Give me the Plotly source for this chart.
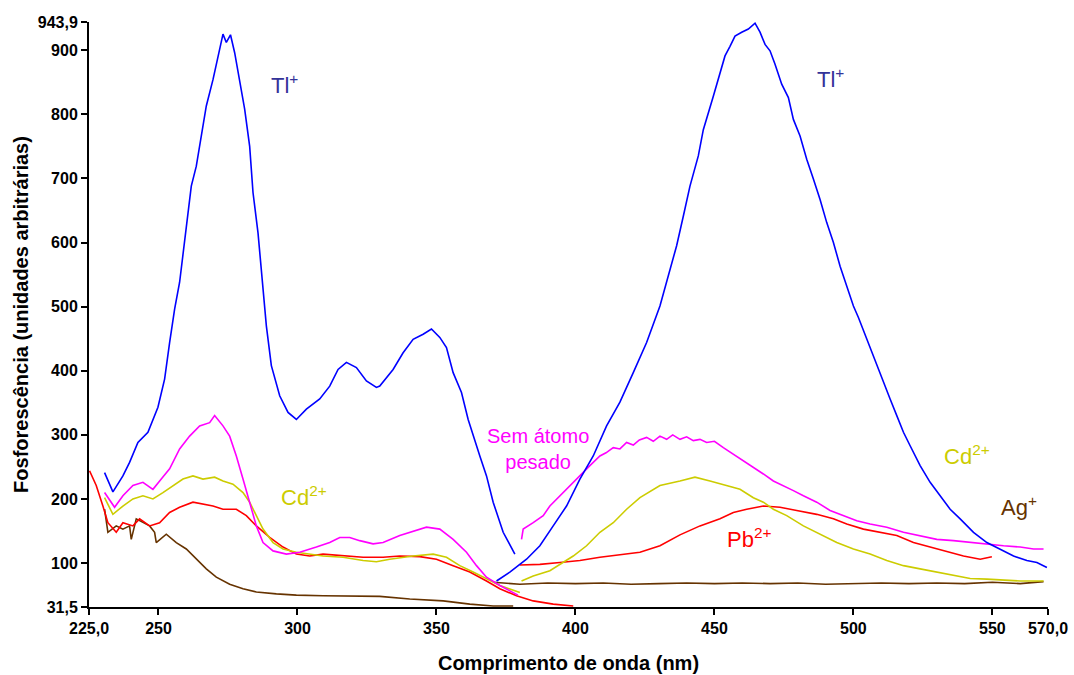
import plotly.graph_objects as go

# ---------------- data ----------------
# Tl+ (blue) – excitation segment
tl_ex_x = [230.6, 233.6, 237.2, 239.6, 242.6, 246.2, 249.8, 252.2, 254.0, 255.8, 257.6, 260.0, 261.8,
           263.6, 265.4, 267.2, 269.6, 271.4, 273.2, 274.4, 275.9, 277.4, 279.2, 281.0, 282.8, 284.0,
           285.8, 287.0, 288.8, 290.6, 293.6, 296.6, 299.6, 303.2, 308.0, 311.6, 314.6, 317.6, 321.2,
           324.8, 328.4, 329.6, 334.4, 338.0, 341.6, 345.2, 348.2, 351.2, 353.6, 356.0, 359.0, 361.4,
           363.2, 365.6, 368.0, 370.4, 374.0, 378.2]
tl_ex_y = [241, 211, 236, 257, 288, 304, 343, 387, 444, 496, 538, 626, 688,
           719, 769, 813, 854, 888, 925, 912, 924, 896, 849, 808, 750, 678,
           615, 553, 470, 408, 361, 335, 324, 340, 356, 376, 402, 413, 405,
           384, 374, 376, 402, 428, 449, 457, 465, 452, 436, 397, 366, 324,
           298, 267, 236, 195, 148, 114]
# Tl+ (blue) – emission segment
tl_em_x = [371.6, 376.4, 382.4, 387.2, 392.0, 396.8, 401.6, 406.4, 411.2, 416.0, 420.8, 425.6, 430.4,
           432.8, 436.4, 438.8, 441.2, 444.2, 446.0, 449.6, 452.0, 453.8, 455.6, 457.4, 459.8, 462.2,
           464.6, 466.4, 468.2, 470.0, 471.8, 474.2, 476.6, 478.4, 480.8, 483.2, 485.6, 488.0, 490.4,
           492.8, 495.2, 497.6, 500.0, 501.8, 506.0, 510.2, 513.2, 515.6, 518.0, 520.4, 524.0, 527.6,
           531.2, 534.8, 538.4, 543.2, 548.0, 552.8, 557.6, 562.4, 566.0, 569.6]
tl_em_y = [72, 86, 106, 127, 158, 189, 231, 267, 314, 351, 397, 444, 501,
           538, 595, 641, 688, 735, 776, 828, 862, 891, 906, 922, 928, 933,
           942, 928, 909, 899, 878, 847, 826, 792, 766, 730, 699, 667, 631,
           600, 563, 532, 501, 483, 435, 387, 356, 330, 304, 283, 252, 226,
           205, 184, 169, 148, 132, 122, 111, 104, 101, 93]

# Sem átomo pesado (magenta)
sp_ex_x = [230.6, 234.2, 237.2, 240.8, 244.4, 248.0, 251.0, 254.0, 257.6, 261.2, 264.8, 268.4, 270.2,
           273.2, 275.6, 278.0, 280.4, 282.8, 285.2, 287.6, 291.2, 296.0, 300.8, 306.8, 311.6, 315.2,
           318.8, 322.4, 327.2, 330.8, 336.8, 346.4, 351.2, 356.0, 360.8, 364.4, 368.0, 372.8, 379.3]
sp_ex_y = [210, 187, 205, 221, 226, 215, 231, 247, 278, 298, 314, 319, 330,
           314, 298, 267, 231, 195, 158, 132, 119, 114, 117, 125, 132, 140,
           140, 135, 130, 132, 143, 156, 153, 137, 117, 96, 78, 65, 50]
sp_em_x = [380.6, 381.2, 384.8, 388.4, 390.8, 394.4, 398.0, 401.6, 405.2, 408.8, 411.0, 413.6, 416.0,
           418.4, 420.8, 423.0, 425.6, 428.0, 430.4, 432.8, 435.0, 437.6, 440.0, 442.4, 444.8, 447.2,
           450.0, 453.2, 456.8, 460.4, 464.0, 467.6, 471.2, 474.8, 478.4, 482.0,
           486.8, 491.6, 496.4, 501.2, 506.0, 512.0, 518.0, 524.0, 530.0, 536.0, 542.0, 548.0, 554.0,
           560.0, 564.8, 568.4]
sp_em_y = [137, 153, 163, 174, 189, 205, 221, 236, 252, 267, 272, 280, 278,
           288, 284, 292, 296, 290, 298, 293, 300, 293, 297, 291, 293, 288,
           290, 280, 270, 259, 249, 239, 228, 221, 213, 205,
           195, 182, 174, 166, 161, 156, 148, 143, 137, 135, 132, 130, 127,
           125, 122, 122]

# Cd2+ (olive yellow)
cd_ex_x = [230.6, 233.6, 237.2, 240.8, 244.4, 248.0, 251.6, 255.2, 258.8, 262.4, 266.0, 270.2, 273.2,
           276.8, 280.4, 282.8, 285.2, 287.6, 291.2, 294.8, 299.6, 304.4, 309.2, 316.4, 323.6, 328.4,
           333.2, 341.6, 348.8, 353.6, 358.4, 363.2, 368.0, 372.8, 380.0]
cd_ex_y = [202, 176, 189, 200, 205, 200, 210, 221, 231, 236, 231, 234, 228,
           223, 210, 195, 174, 153, 132, 122, 117, 114, 111, 109, 104, 102,
           106, 111, 114, 109, 96, 86, 75, 65, 54]
cd_em_x = [380.6, 384.8, 390.8, 394.4, 399.2, 404.0, 408.8, 413.6, 418.4, 423.2, 430.4, 437.6, 443.0,
           448.4, 454.4, 459.2, 464.0, 467.6, 471.2, 476.0, 482.0, 488.0, 494.0, 500.0, 506.0, 512.0,
           518.0, 524.0, 530.0, 536.0, 542.0, 548.0, 554.0, 560.0, 568.4]
cd_em_y = [72, 80, 88, 98, 111, 127, 148, 163, 184, 202, 221, 228, 234,
           228, 221, 215, 202, 195, 184, 174, 158, 145, 132, 122, 114, 104,
           96, 91, 86, 80, 76, 75, 74, 72, 72]

# Pb2+ (red)
pb_ex_x = [225.2, 227.6, 230.0, 231.8, 234.8, 237.2, 240.8, 243.2, 246.8, 250.4, 254.0, 257.6, 262.4,
           266.0, 269.6, 273.2, 278.0, 281.6, 285.2, 290.0, 294.8, 299.6, 304.4, 309.2, 316.4, 323.6,
           330.8, 336.8, 344.0, 350.0, 356.0, 362.0, 368.0, 372.8, 378.8, 384.8, 392.0, 399.2]
pb_ex_y = [244, 221, 189, 163, 148, 163, 158, 169, 158, 163, 179, 187, 195,
           192, 189, 184, 184, 174, 158, 140, 125, 114, 111, 114, 111, 109,
           109, 111, 110, 106, 96, 86, 72, 60, 49, 41, 36, 33]
pb_em_x = [380.0, 387.2, 394.4, 401.6, 408.8, 416.0, 423.2, 430.4, 437.6, 444.8, 452.0, 456.8, 461.6,
           467.6, 473.6, 479.6, 486.8, 492.8, 497.6, 503.6, 509.6, 515.6, 521.6, 527.6, 533.6, 539.6,
           545.6, 549.8]
pb_em_y = [97, 98, 101, 104, 109, 113, 117, 127, 144, 158, 169, 179, 184,
           189, 187, 182, 176, 169, 161, 153, 148, 143, 132, 125, 117, 111,
           106, 110]

# Ag+ (brown)
ag_ex_x = [230.6, 231.8, 234.8, 237.2, 239.6, 240.2, 242.0, 244.4, 246.8, 248.6, 249.2, 252.8, 256.4,
           260.0, 263.6, 267.2, 270.8, 275.6, 280.4, 285.2, 292.4, 299.6, 309.2, 321.2, 329.6, 340.4,
           352.4, 362.0, 370.4, 377.6]
ag_ex_y = [184, 148, 158, 153, 158, 137, 169, 163, 158, 148, 132, 145, 132,
           122, 106, 91, 78, 67, 60, 55, 52, 50, 49, 48, 48, 44,
           41, 36, 33, 33]
ag_em_x = [370.4, 380, 390, 400, 410, 420, 430, 440, 450, 460, 470, 480, 490, 500, 510, 520, 530, 540,
           550, 560, 568.4]
ag_em_y = [70, 67, 69, 68, 69, 67, 68, 69, 68, 69, 68, 69, 67, 68, 69, 68, 69, 68,
           70, 68, 71]

# axis ticks
x_tickvals = [225, 250, 300, 350, 400, 450, 500, 550, 570]
x_ticktext = ["225,0", "250", "300", "350", "400", "450", "500", "550", "570,0"]
y_tickvals = [31.5, 100, 200, 300, 400, 500, 600, 700, 800, 900, 943.9]
y_ticktext = ["31,5", "100", "200", "300", "400", "500", "600", "700", "800", "900", "943,9"]

# ---------------- figure ----------------
FONT = "Liberation Sans, Arial, sans-serif"
BLUE, MAG, YEL, RED, BRN = "#0000FF", "#FF00FF", "#CCCC00", "#FF0000", "#663300"

fig = go.Figure()
series = [
    (ag_ex_x, ag_ex_y, BRN, "Ag+"), (ag_em_x, ag_em_y, BRN, "Ag+"),
    (pb_ex_x, pb_ex_y, RED, "Pb2+"), (pb_em_x, pb_em_y, RED, "Pb2+"),
    (cd_ex_x, cd_ex_y, YEL, "Cd2+"), (cd_em_x, cd_em_y, YEL, "Cd2+"),
    (sp_ex_x, sp_ex_y, MAG, "Sem átomo pesado"), (sp_em_x, sp_em_y, MAG, "Sem átomo pesado"),
    (tl_ex_x, tl_ex_y, BLUE, "Tl+"), (tl_em_x, tl_em_y, BLUE, "Tl+"),
]
for xs, ys, col, name in series:
    fig.add_trace(go.Scatter(x=xs, y=ys, mode="lines", name=name,
                             line=dict(color=col, width=1.6), showlegend=False))

labels = [
    (295.4, 847, "Tl<sup>+</sup>", "#333399", 22),
    (491.6, 856, "Tl<sup>+</sup>", "#333399", 22),
    (386.5, 278, "Sem átomo<br>pesado", MAG, 20),
    (302.3, 204, "Cd<sup>2+</sup>", YEL, 22),
    (540.8, 268, "Cd<sup>2+</sup>", YEL, 22),
    (559.5, 189, "Ag<sup>+</sup>", BRN, 22),
    (462.4, 139, "Pb<sup>2+</sup>", RED, 22),
]
for x, y, t, c, s in labels:
    fig.add_annotation(x=x, y=y, text=t, showarrow=False, xref="x", yref="y",
                       font=dict(family=FONT, size=s, color=c), align="center")

axis_common = dict(showline=True, linecolor="black", linewidth=2, ticks="outside",
                   ticklen=6, tickwidth=2, tickcolor="black", showgrid=False, zeroline=False,
                   automargin=False, ticklabeloverflow="allow",
                   tickfont=dict(family=FONT, size=16, color="black", weight="bold"))

fig.update_layout(
    width=1074, height=675,
    margin=dict(l=89, r=26, t=22, b=68),
    paper_bgcolor="white", plot_bgcolor="white",
    xaxis=dict(range=[225, 570], tickmode="array", tickvals=x_tickvals, ticktext=x_ticktext,
               title=dict(text="Comprimento de onda (nm)", standoff=20,
                          font=dict(family=FONT, size=20, color="black", weight="bold")),
               **axis_common),
    yaxis=dict(range=[31.5, 943.9], tickmode="array", tickvals=y_tickvals, ticktext=y_ticktext,
               title=dict(text="Fosforescência (unidades arbitrárias)", standoff=4,
                          font=dict(family=FONT, size=20, color="black", weight="bold")),
               **axis_common),
)

# remove the browser's default 8px body margin so the 1074x675 figure fills the page exactly
fig.write_html("out.html", config={"displayModeBar": False},
               post_script="document.body.style.margin='0';")
